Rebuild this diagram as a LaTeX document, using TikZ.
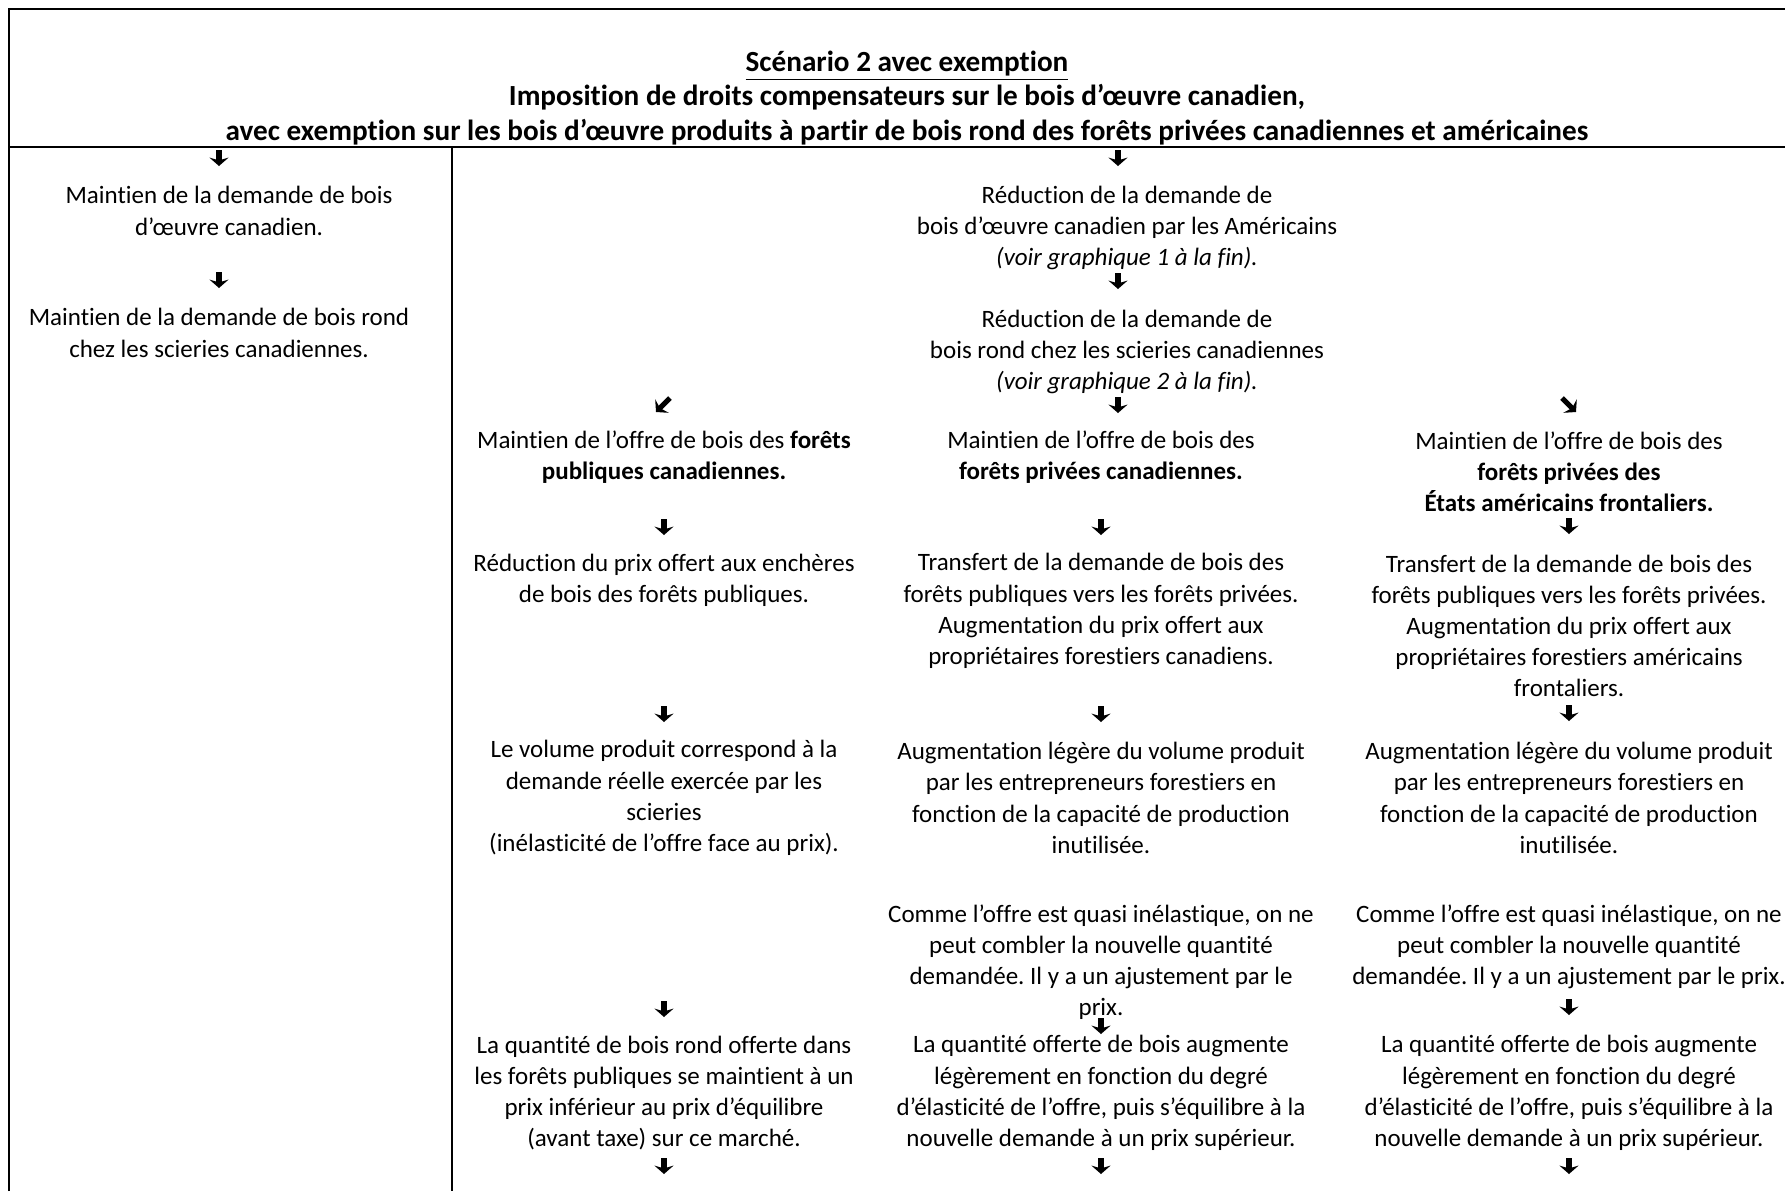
\documentclass[tikz,border=0pt]{standalone}
\usepackage{fontspec}
\setmainfont{Carlito}[Ligatures=NoCommon]
\frenchspacing
\usetikzlibrary{arrows.meta}
\tikzset{
    txt/.style={align=center, inner sep=0pt, font=\fontsize{12.5pt}{15.6pt}\selectfont},
    hdr/.style={align=center, inner sep=0pt, font=\fontsize{14.6pt}{17.2pt}\selectfont\bfseries},
    frame/.style={line width=1.1pt},
    pointer/.style={line width=2.6pt, -{Stealth[length=4.2pt,width=9.5pt,inset=1.4pt]}},
}
\begin{document}
\begin{tikzpicture}[x=0.5pt, y=-0.5pt]
    \useasboundingbox (0,0) rectangle (1785,1191);
    % frame of the table
    \draw[frame] (9,1191) -- (9,9) -- (1785,9);
    \draw[frame] (9,147) -- (1785,147);
    \draw[line width=0.8pt] (452,147) -- (452,1191);
    % title
    \node[hdr] (title) at (907,98) {\underline{Scénario 2 avec exemption}\\
        Imposition de droits compensateurs sur le bois d’œuvre canadien,\\
        avec exemption sur les bois d’œuvre produits à partir de bois rond des forêts privées canadiennes et américaines};
    % left column
    \node[txt] (keepdem) at (229,211) {Maintien de la demande de bois\\ d’œuvre canadien.};
    \node[txt] (keeplog) at (219,333) {Maintien de la demande de bois rond\\ chez les scieries canadiennes.};
    % right part, common
    \node[txt] (cutdem) at (1127,228) {Réduction de la demande de\\ bois d’œuvre canadien par les Américains\\ \textit{(voir graphique 1 à la fin).}};
    \node[txt] (cutlog) at (1127,352) {Réduction de la demande de\\ bois rond chez les scieries canadiennes\\ \textit{(voir graphique 2 à la fin).}};
    % public forests
    \node[txt] (pub1) at (664,457) {Maintien de l’offre de bois des \textbf{forêts}\\ \textbf{publiques canadiennes.}};
    \node[txt] (pub2) at (664,580) {Réduction du prix offert aux enchères\\ de bois des forêts publiques.};
    \node[txt] (pub3) at (664,798) {Le volume produit correspond à la\\ demande réelle exercée par les\\ scieries\\ (inélasticité de l’offre face au prix).};
    \node[txt] (pub4) at (664,1093) {La quantité de bois rond offerte dans\\ les forêts publiques se maintient à un\\ prix inférieur au prix d’équilibre\\ (avant taxe) sur ce marché.};
    % canadian private forests
    \node[txt] (can1) at (1101,457) {Maintien de l’offre de bois des\\ \textbf{forêts privées canadiennes.}};
    \node[txt] (can2) at (1101,611) {Transfert de la demande de bois des\\ forêts publiques vers les forêts privées.\\ Augmentation du prix offert aux\\ propriétaires forestiers canadiens.};
    \node[txt] (can3) at (1101,798) {Augmentation légère du volume produit\\ par les entrepreneurs forestiers en\\ fonction de la capacité de production\\ inutilisée.};
    \node[txt] (can4) at (1101,962) {Comme l’offre est quasi inélastique, on ne\\ peut combler la nouvelle quantité\\ demandée. Il y a un ajustement par le\\ prix.};
    \node[txt] (can5) at (1101,1093) {La quantité offerte de bois augmente\\ légèrement en fonction du degré\\ d’élasticité de l’offre, puis s’équilibre à la\\ nouvelle demande à un prix supérieur.};
    % american private forests
    \node[txt] (usa1) at (1569,472) {Maintien de l’offre de bois des\\ \textbf{forêts privées des}\\ \textbf{États américains frontaliers.}};
    \node[txt] (usa2) at (1569,626) {Transfert de la demande de bois des\\ forêts publiques vers les forêts privées.\\ Augmentation du prix offert aux\\ propriétaires forestiers américains\\ frontaliers.};
    \node[txt] (usa3) at (1569,798) {Augmentation légère du volume produit\\ par les entrepreneurs forestiers en\\ fonction de la capacité de production\\ inutilisée.};
    \node[txt] (usa4) at (1569,947) {Comme l’offre est quasi inélastique, on ne\\ peut combler la nouvelle quantité\\ demandée. Il y a un ajustement par le prix.};
    \node[txt] (usa5) at (1569,1093) {La quantité offerte de bois augmente\\ légèrement en fonction du degré\\ d’élasticité de l’offre, puis s’équilibre à la\\ nouvelle demande à un prix supérieur.};
    % down arrows
    \foreach \n/\x/\y in {h1/219/158, h2/1118/158, l1/219/280, c1/1118/281, c2/1118/405,
        p1/664/527, p2/664/714, p3/664/1009, p4/664/1166,
        m1/1101/527, m2/1101/714, m3/1101/1026, m4/1101/1166,
        u1/1569/526, u2/1569/713, u3/1569/1007, u4/1569/1166}{
    \coordinate (\n) at (\x,\y);
    \draw[pointer] (\n) ++(0,-8) -- ++(0,16);}
    % side arrows
    \coordinate (sw) at (663,405);
    \coordinate (se) at (1569,405);
    \draw[pointer] (sw) ++(7,-7) -- ++(-14,14);
    \draw[pointer] (se) ++(-7,-7) -- ++(14,14);
\end{tikzpicture}
\end{document}
